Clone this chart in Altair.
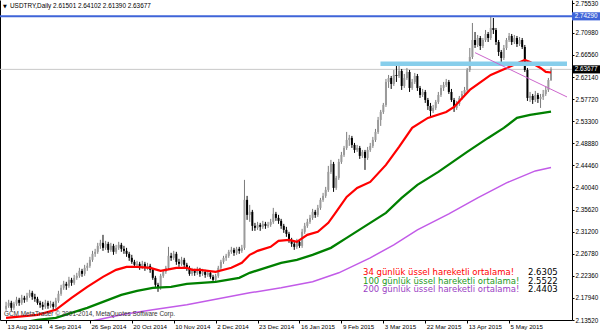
import json
import altair as alt
import pandas as pd

# ---------------- data ----------------
symbol = "USDTRY,Daily"

opens = [
    2.1576, 2.1636, 2.1696, 2.1596, 2.1676, 2.1756, 2.1696, 2.1796, 2.1756, 2.1836,
    2.1896, 2.1816, 2.1776, 2.1696, 2.1656, 2.1616, 2.1696, 2.1636, 2.1676, 2.1616,
    2.1736, 2.1876, 2.1996, 2.2076, 2.2036, 2.2156, 2.2096, 2.2196, 2.2236, 2.2336,
    2.2276, 2.2396, 2.2436, 2.2556, 2.2676, 2.2716, 2.2836, 2.2896, 2.2796, 2.2876,
    2.2756, 2.2836, 2.2716, 2.2796, 2.2856, 2.2776, 2.2736, 2.2676, 2.2596, 2.2516,
    2.2456, 2.2476, 2.2416, 2.2476, 2.2396, 2.2436, 2.2356, 2.2196, 2.2056, 2.1996,
    2.2236, 2.2316, 2.2396, 2.2636, 2.2596, 2.2676, 2.2516, 2.2476, 2.2556, 2.2456,
    2.2396, 2.2276, 2.2336, 2.2296, 2.2356, 2.2276, 2.2316, 2.2256, 2.2296, 2.2216,
    2.2156, 2.2236, 2.2396, 2.2516, 2.2596, 2.2636, 2.2716, 2.2756, 2.2696, 2.2776,
    2.2736, 2.2796, 2.3756, 2.3456, 2.3516, 2.3236, 2.3196, 2.3256, 2.3216, 2.3276,
    2.3236, 2.3256, 2.3316, 2.3476, 2.3396, 2.3336, 2.3236, 2.3156, 2.3076, 2.2956,
    2.2876, 2.2816, 2.2916, 2.2836, 2.3116, 2.3236, 2.3316, 2.3396, 2.3516, 2.3456,
    2.3596, 2.3756, 2.3836, 2.3956, 2.4316, 2.4476, 2.3996, 2.4196, 2.4516, 2.4656,
    2.4796, 2.4956, 2.4996, 2.4856, 2.4756, 2.4796, 2.4636, 2.4716, 2.4596, 2.4756,
    2.4836, 2.4956, 2.5116, 2.5356, 2.5516, 2.5656, 2.6116, 2.6196, 2.6076, 2.6256,
    2.6236, 2.6336, 2.6036, 2.6196, 2.6316, 2.5996, 2.6116, 2.6236, 2.5996, 2.5856,
    2.5916, 2.5756, 2.5636, 2.5536, 2.5596, 2.5716, 2.5856, 2.5996, 2.6056, 2.6116,
    2.5916, 2.5756, 2.5596, 2.5676, 2.5796, 2.5876, 2.5956, 2.6356, 2.6616, 2.6956,
    2.6856, 2.6996, 2.6836, 2.6956, 2.7076, 2.6996, 2.7196, 2.7156, 2.6916, 2.6716,
    2.6596, 2.6796, 2.6956, 2.7036, 2.6916, 2.6996, 2.6876, 2.6956, 2.6816, 2.6356,
    2.5796, 2.5836, 2.5756, 2.5856, 2.5776, 2.5816, 2.5876, 2.5956, 2.61501,
]
highs = [
    2.1716, 2.1756, 2.1736, 2.1716, 2.1816, 2.1796, 2.1856, 2.1836, 2.1896, 2.1956,
    2.1936, 2.1876, 2.1816, 2.1736, 2.1716, 2.1756, 2.1736, 2.1736, 2.1716, 2.1796,
    2.1936, 2.2056, 2.2136, 2.2116, 2.2216, 2.2196, 2.2256, 2.2296, 2.2396, 2.2376,
    2.2456, 2.2496, 2.2616, 2.2736, 2.2776, 2.2896, 2.2956, 2.3056, 2.2936, 2.2916,
    2.2896, 2.2876, 2.2856, 2.2916, 2.2896, 2.2836, 2.2796, 2.2716, 2.2656, 2.2556,
    2.2536, 2.2516, 2.2536, 2.2516, 2.2496, 2.2476, 2.2396, 2.2236, 2.2096, 2.2276,
    2.2356, 2.2436, 2.2816, 2.2696, 2.2736, 2.2716, 2.2576, 2.2616, 2.2596, 2.2496,
    2.2436, 2.2396, 2.2376, 2.2416, 2.2396, 2.2376, 2.2356, 2.2336, 2.2336, 2.2256,
    2.2276, 2.2436, 2.2556, 2.2636, 2.2676, 2.2756, 2.2816, 2.2796, 2.2816, 2.2816,
    2.2856, 2.4156, 2.3836, 2.3656, 2.3556, 2.3296, 2.3316, 2.3296, 2.3336, 2.3316,
    2.3316, 2.3376, 2.3596, 2.3516, 2.3456, 2.3376, 2.3276, 2.3216, 2.3116, 2.2996,
    2.2936, 2.2976, 2.2956, 2.3176, 2.3296, 2.3376, 2.3456, 2.3576, 2.3556, 2.3656,
    2.3796, 2.3896, 2.4016, 2.4436, 2.4556, 2.4516, 2.4236, 2.4576, 2.4716, 2.4836,
    2.5116, 2.5056, 2.5036, 2.4896, 2.4856, 2.4836, 2.4756, 2.4756, 2.4816, 2.4896,
    2.5016, 2.5176, 2.5416, 2.5556, 2.5696, 2.6176, 2.6256, 2.6236, 2.6356, 2.6456,
    2.6456, 2.6376, 2.6276, 2.6396, 2.6356, 2.6176, 2.6296, 2.6276, 2.6036, 2.5976,
    2.5956, 2.5796, 2.5696, 2.5656, 2.5756, 2.5916, 2.6056, 2.6116, 2.6176, 2.6156,
    2.5976, 2.5796, 2.5736, 2.5836, 2.5936, 2.6016, 2.6396, 2.6796, 2.7296, 2.7116,
    2.7056, 2.7036, 2.6996, 2.7156, 2.7116, 2.7416, 2.7396, 2.7196, 2.6956, 2.6756,
    2.6856, 2.6996, 2.7096, 2.7076, 2.7056, 2.7036, 2.7016, 2.6996, 2.6856, 2.6396,
    2.5916, 2.5876, 2.5936, 2.5896, 2.5876, 2.5956, 2.6036, 2.6196, 2.64102,
]
lows = [
    2.1536, 2.1596, 2.1536, 2.1556, 2.1636, 2.1636, 2.1656, 2.1696, 2.1716, 2.1796,
    2.1756, 2.1716, 2.1656, 2.1596, 2.1556, 2.1576, 2.1576, 2.1596, 2.1556, 2.1576,
    2.1696, 2.1836, 2.1956, 2.1956, 2.1996, 2.2036, 2.2056, 2.2156, 2.2196, 2.2216,
    2.2236, 2.2336, 2.2396, 2.2516, 2.2616, 2.2676, 2.2776, 2.2736, 2.2756, 2.2696,
    2.2716, 2.2656, 2.2676, 2.2756, 2.2716, 2.2676, 2.2616, 2.2536, 2.2476, 2.2396,
    2.2416, 2.2356, 2.2376, 2.2336, 2.2356, 2.2296, 2.2156, 2.1996, 2.1916, 2.1956,
    2.2196, 2.2276, 2.2356, 2.2536, 2.2556, 2.2456, 2.2416, 2.2436, 2.2396, 2.2336,
    2.2236, 2.2236, 2.2236, 2.2256, 2.2216, 2.2236, 2.2196, 2.2216, 2.2176, 2.2116,
    2.2116, 2.2196, 2.2356, 2.2476, 2.2536, 2.2596, 2.2676, 2.2636, 2.2656, 2.2676,
    2.2696, 2.2756, 2.3356, 2.3316, 2.3136, 2.3136, 2.3156, 2.3136, 2.3176, 2.3176,
    2.3196, 2.3216, 2.3276, 2.3336, 2.3276, 2.3176, 2.3096, 2.3016, 2.2896, 2.2816,
    2.2756, 2.2776, 2.2796, 2.2796, 2.3076, 2.3196, 2.3276, 2.3356, 2.3396, 2.3416,
    2.3556, 2.3716, 2.3796, 2.3916, 2.4276, 2.3916, 2.3956, 2.4156, 2.4476, 2.4616,
    2.4756, 2.4836, 2.4796, 2.4696, 2.4716, 2.4576, 2.4596, 2.4356, 2.4556, 2.4716,
    2.4796, 2.4916, 2.5076, 2.5236, 2.5476, 2.5616, 2.5996, 2.5976, 2.6036, 2.6116,
    2.6196, 2.5956, 2.5996, 2.6156, 2.5916, 2.5956, 2.6076, 2.5936, 2.5796, 2.5816,
    2.5696, 2.5556, 2.5416, 2.5496, 2.5556, 2.5676, 2.5816, 2.5936, 2.6016, 2.5876,
    2.5716, 2.5516, 2.5556, 2.5636, 2.5756, 2.5836, 2.5916, 2.6316, 2.6576, 2.6796,
    2.6816, 2.6756, 2.6796, 2.6916, 2.6916, 2.6956, 2.7076, 2.6856, 2.6636, 2.6516,
    2.6556, 2.6756, 2.6916, 2.6856, 2.6876, 2.6816, 2.6836, 2.6776, 2.6316, 2.5736,
    2.5716, 2.5676, 2.5716, 2.5696, 2.5596, 2.5756, 2.5836, 2.5916, 2.61390,
]
closes = [
    2.1636, 2.1696, 2.1596, 2.1676, 2.1756, 2.1696, 2.1796, 2.1756, 2.1836, 2.1896,
    2.1816, 2.1776, 2.1696, 2.1656, 2.1616, 2.1696, 2.1636, 2.1676, 2.1616, 2.1736,
    2.1876, 2.1996, 2.2076, 2.2036, 2.2156, 2.2096, 2.2196, 2.2236, 2.2336, 2.2276,
    2.2396, 2.2436, 2.2556, 2.2676, 2.2716, 2.2836, 2.2896, 2.2796, 2.2876, 2.2756,
    2.2836, 2.2716, 2.2796, 2.2856, 2.2776, 2.2736, 2.2676, 2.2596, 2.2516, 2.2456,
    2.2476, 2.2416, 2.2476, 2.2396, 2.2436, 2.2356, 2.2196, 2.2056, 2.1996, 2.2236,
    2.2316, 2.2396, 2.2636, 2.2596, 2.2676, 2.2516, 2.2476, 2.2556, 2.2456, 2.2396,
    2.2276, 2.2336, 2.2296, 2.2356, 2.2276, 2.2316, 2.2256, 2.2296, 2.2216, 2.2156,
    2.2236, 2.2396, 2.2516, 2.2596, 2.2636, 2.2716, 2.2756, 2.2696, 2.2776, 2.2736,
    2.2796, 2.3756, 2.3456, 2.3516, 2.3236, 2.3196, 2.3256, 2.3216, 2.3276, 2.3236,
    2.3256, 2.3316, 2.3476, 2.3396, 2.3336, 2.3236, 2.3156, 2.3076, 2.2956, 2.2876,
    2.2816, 2.2916, 2.2836, 2.3116, 2.3236, 2.3316, 2.3396, 2.3516, 2.3456, 2.3596,
    2.3756, 2.3836, 2.3956, 2.4316, 2.4476, 2.3996, 2.4196, 2.4516, 2.4656, 2.4796,
    2.4956, 2.4996, 2.4856, 2.4756, 2.4796, 2.4636, 2.4716, 2.4596, 2.4756, 2.4836,
    2.4956, 2.5116, 2.5356, 2.5516, 2.5656, 2.6116, 2.6196, 2.6076, 2.6256, 2.6236,
    2.6336, 2.6036, 2.6196, 2.6316, 2.5996, 2.6116, 2.6236, 2.5996, 2.5856, 2.5916,
    2.5756, 2.5636, 2.5536, 2.5596, 2.5716, 2.5856, 2.5996, 2.6056, 2.6116, 2.5916,
    2.5756, 2.5596, 2.5676, 2.5796, 2.5876, 2.5956, 2.6356, 2.6616, 2.6956, 2.6856,
    2.6996, 2.6836, 2.6956, 2.7076, 2.6996, 2.7196, 2.7156, 2.6916, 2.6716, 2.6596,
    2.6796, 2.6956, 2.7036, 2.6916, 2.6996, 2.6876, 2.6956, 2.6816, 2.6356, 2.5796,
    2.5836, 2.5756, 2.5856, 2.5776, 2.5816, 2.5876, 2.5956, 2.6156, 2.63677,
]
bar_index = list(range(len(closes)))

# moving averages, read at sample bars
ema34_bar = [0, 12, 19, 25, 31, 37, 42, 46, 50, 55, 59, 61, 65, 69, 71, 74, 80, 86, 90, 93,
             96, 101, 104, 108, 111, 115, 119, 123, 126, 130, 134, 139, 145, 150, 155, 161,
             168, 171, 177, 185, 192, 198, 200, 204, 206, 208]
ema34_val = [2.1396, 2.1456, 2.1556, 2.1796, 2.2016, 2.2216, 2.2356, 2.2416, 2.2416, 2.2396,
             2.2336, 2.2356, 2.2396, 2.2396, 2.2356, 2.2356, 2.2316, 2.2396, 2.2496, 2.2656,
             2.2736, 2.2816, 2.2936, 2.2956, 2.2916, 2.3056, 2.3116, 2.3296, 2.3516, 2.3816,
             2.3996, 2.4116, 2.4456, 2.4816, 2.5196, 2.5396, 2.5516, 2.5616, 2.5956, 2.6256,
             2.6416, 2.6556, 2.6516, 2.6396, 2.6316, 2.6305]
ema100_bar = [0, 12, 19, 25, 31, 37, 44, 50, 56, 63, 69, 80, 89, 93, 99, 105, 111, 117, 124,
              130, 136, 145, 151, 157, 165, 176, 184, 190, 195, 200, 208]
ema100_val = [2.1236, 2.1356, 2.1396, 2.1496, 2.1596, 2.1716, 2.1856, 2.1936, 2.1996, 2.2016,
              2.2076, 2.2116, 2.2196, 2.2296, 2.2396, 2.2496, 2.2556, 2.2656, 2.2796, 2.2996,
              2.3196, 2.3496, 2.3796, 2.4056, 2.4316, 2.4716, 2.4996, 2.5196, 2.5396, 2.5456,
              2.5522]
ema200_bar = [0, 18, 35, 44, 56, 69, 81, 93, 105, 117, 127, 139, 148, 157, 169, 180, 191, 202, 208]
ema200_val = [2.0996, 2.1176, 2.1356, 2.1456, 2.1556, 2.1656, 2.1776, 2.1896, 2.1996, 2.2116,
              2.2296, 2.2596, 2.2856, 2.3156, 2.3476, 2.3796, 2.4096, 2.4336, 2.4403]

legend_texts = ["34 günlük üssel hareketli ortalama!",
                "100 günlük üssel hareketli ortalama!",
                "200 günlük üssel hareketli ortalama!"]

# drawn objects
resistance_top = 2.7429
resistance_band = 2.6482
band_bars = [142.9, 214.1]
trend_bars = [179, 214.1]
trend_prices = [2.6702, 2.5816]

# axis labels
date_ticks = [0, 16, 32, 48, 64, 80, 96, 112, 128, 144, 160, 176, 192]
date_labels = ["13 Aug 2014", "4 Sep 2014", "26 Sep 2014", "20 Oct 2014", "10 Nov 2014",
               "2 Dec 2014", "23 Dec 2014", "16 Jan 2015", "9 Feb 2015", "3 Mar 2015",
               "22 Mar 2015", "13 Apr 2015", "5 May 2015"]
price_ticks = [2.1352, 2.1794, 2.2236, 2.2678, 2.3120, 2.3562, 2.4004, 2.4446, 2.4888,
               2.5330, 2.5772, 2.6214, 2.6656, 2.7098]
top_price_text = "2.75530"
top_price_tick = 2.7686

copyright_text = "GCM MetaTrader © 2001-2014, MetaQuotes Software Corp."

# ---------------- chart ----------------
W, H = 572, 320
FONT = "Liberation Sans"
xs = alt.Scale(domain=[-0.4, 214.1], nice=False, zero=False)
ys = alt.Scale(domain=[2.1352, 2.7756], nice=False, zero=False)

RED, GREEN, VIOLET = "#FF0000", "#008000", "#C25BE8"
BULL, BEAR = "#9A9A9A", "#000000"

candles = pd.DataFrame({"bar": bar_index, "open": opens, "high": highs,
                        "low": lows, "close": closes})
last = candles.iloc[-1]

x_axis = alt.Axis(values=date_ticks,
                  labelExpr=json.dumps(date_labels) + "[round(datum.value / 16)]",
                  orient="bottom", labelAlign="left", labelBaseline="top",
                  labelFont=FONT, labelFontSize=6.2, labelColor="black", labelPadding=0,
                  labelOffset=1, tickSize=3, tickColor="black", domainColor="black",
                  labelOverlap=False, labelFlush=False, grid=False, title=None)
y_axis = alt.Axis(values=price_ticks + [top_price_tick], orient="right",
                  labelExpr=f"datum.value > 2.76 ? '{top_price_text}' : format(datum.value, '.5f')",
                  labelFont=FONT, labelFontSize=6.3, labelColor="black", labelPadding=1,
                  tickSize=2, tickColor="black", domainColor="black",
                  labelOverlap=False, labelFlush=False, grid=False, title=None)
left_axis = alt.Axis(orient="left", labels=False, ticks=False, domain=True,
                     domainColor="black", grid=False, title=None)

up = "datum.close >= datum.open"

price_line = alt.Chart(pd.DataFrame({"p": [last["close"]]})).mark_rule(
    color="#C8C8C8", strokeWidth=1).encode(y=alt.Y("p:Q", scale=ys, axis=None))

wicks = alt.Chart(candles).mark_rule(strokeWidth=1).encode(
    x=alt.X("bar:Q", scale=xs, axis=x_axis),
    y=alt.Y("low:Q", scale=ys, axis=y_axis),
    y2="high:Q",
    color=alt.condition(up, alt.value("#7C7C7C"), alt.value(BEAR)),
)
bodies = alt.Chart(candles).mark_bar(size=2).encode(
    x=alt.X("bar:Q", scale=xs, axis=None),
    y=alt.Y("open:Q", scale=ys, axis=None),
    y2="close:Q",
    color=alt.condition(up, alt.value(BULL), alt.value(BEAR)),
)


def ema_layer(bars, vals, color, width, axis=None):
    df = pd.DataFrame({"bar": bars, "v": vals})
    return alt.Chart(df).mark_line(color=color, strokeWidth=width, clip=True).encode(
        x=alt.X("bar:Q", scale=xs, axis=None),
        y=alt.Y("v:Q", scale=ys, axis=axis),
    )


e200 = ema_layer(ema200_bar, ema200_val, VIOLET, 1.5, left_axis)
e100 = ema_layer(ema100_bar, ema100_val, GREEN, 2.3)
e34 = ema_layer(ema34_bar, ema34_val, RED, 2.2)

band = alt.Chart(pd.DataFrame({"b1": [band_bars[0]], "b2": [band_bars[1]],
                               "p": [resistance_band]})).mark_rule(
    color="#87CEEB", strokeWidth=4.5).encode(
    x=alt.X("b1:Q", scale=xs, axis=None), x2="b2:Q",
    y=alt.Y("p:Q", scale=ys, axis=None))

trend = alt.Chart(pd.DataFrame({"bar": trend_bars, "p": trend_prices})).mark_line(
    color="#CC66CC", strokeWidth=1, clip=True).encode(
    x=alt.X("bar:Q", scale=xs, axis=None), y=alt.Y("p:Q", scale=ys, axis=None))

top_line = alt.Chart(pd.DataFrame({"p": [resistance_top]})).mark_rule(
    color="#3F64D8", strokeWidth=2).encode(y=alt.Y("p:Q", scale=ys, axis=None))

# price tags on the right axis
tags = pd.DataFrame({"p": [resistance_top, last["close"]],
                     "label": [f"{resistance_top:.5f}", f"{last['close']:.5f}"],
                     "bg": ["#3F64D8", "#000000"]})
tag_shape = "M-1,-0.29L1,-0.29L1,0.29L-1,0.29Z"
tag_box = alt.Chart(tags).mark_point(shape=tag_shape, filled=True, opacity=1,
                                     size=28 * 28, strokeWidth=0).encode(
    x=alt.value(W + 14), y=alt.Y("p:Q", scale=ys, axis=None),
    color=alt.Color("bg:N", scale=None))
tag_text = alt.Chart(tags).mark_text(font=FONT, fontSize=6.3, color="white",
                                     align="center", baseline="middle").encode(
    x=alt.value(W + 14), y=alt.Y("p:Q", scale=ys, axis=None), text="label:N")

one = pd.DataFrame({"k": [0]})
header_str = (f"{symbol}  {last['open']:.5f} {last['high']:.5f} "
              f"{last['low']:.5f} {last['close']:.5f}")
header_icon = alt.Chart(one).mark_text(font="DejaVu Sans", fontSize=5, align="left",
                                       baseline="middle", color="black").encode(
    x=alt.value(3), y=alt.value(6), text=alt.value("▼"))
header = alt.Chart(one).mark_text(font=FONT, fontSize=6.4, align="left",
                                  baseline="middle", color="black").encode(
    x=alt.value(10), y=alt.value(6), text=alt.value(header_str))
copyright_mark = alt.Chart(one).mark_text(font=FONT, fontSize=6.4, align="left",
                                          baseline="middle", color="#333333").encode(
    x=alt.value(4), y=alt.value(314), text=alt.value(copyright_text))

legend_layers = []
for txt, val, col, ypos in zip(legend_texts,
                               [ema34_val[-1], ema100_val[-1], ema200_val[-1]],
                               [RED, "#1E9A1E", "#9B3FC4"],
                               [272, 280.5, 289]):
    legend_layers.append(alt.Chart(one).mark_text(
        font="DejaVu Sans", fontSize=8.5, align="left", baseline="middle", color=col).encode(
        x=alt.value(363), y=alt.value(ypos), text=alt.value(txt)))
    legend_layers.append(alt.Chart(one).mark_text(
        font="DejaVu Sans", fontSize=8.5, align="left", baseline="middle", color="black").encode(
        x=alt.value(528), y=alt.value(ypos), text=alt.value(f"{val:.4f}")))

chart = alt.layer(
    price_line, e200, wicks, bodies, e100, e34, band, trend, top_line,
    tag_box, tag_text, header_icon, header, copyright_mark, *legend_layers,
).resolve_axis(x="independent", y="independent").properties(
    width=W, height=H,
    padding={"left": 0, "top": 0, "right": 28, "bottom": 13},
    autosize=alt.AutoSizeParams(type="none"),
    background="white",
).configure_view(stroke=None)

chart.save("out.html", embed_options={"renderer": "svg", "actions": False})
